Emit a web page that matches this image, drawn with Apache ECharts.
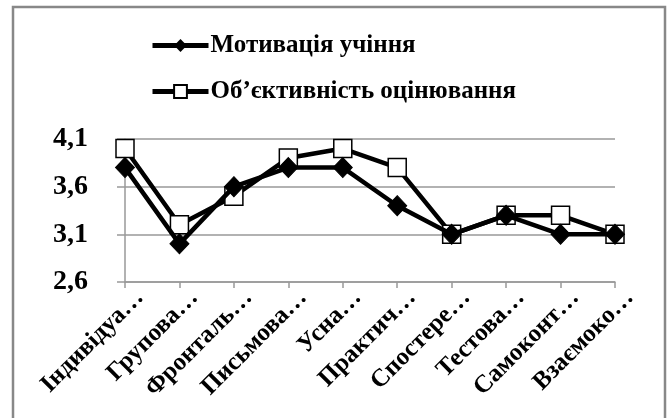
<!DOCTYPE html>
<html>
<head>
<meta charset="utf-8">
<script src="https://cdn.jsdelivr.net/npm/echarts@6/dist/echarts.min.js"></script>
<style>html,body{margin:0;padding:0;background:#fff;}#c{width:667px;height:418px;}</style>
</head>
<body>
<div id="c"></div>
<script>
const categories = ["Індивідуа…","Групова…","Фронталь…","Письмова…","Усна…","Практич…","Спостере…","Тестова…","Самоконт…","Взаємоко…"];
const motivation = [3.8, 3.0, 3.6, 3.8, 3.8, 3.4, 3.1, 3.3, 3.1, 3.1];
const objectivity = [4.0, 3.2, 3.5, 3.9, 4.0, 3.8, 3.1, 3.3, 3.3, 3.1];
const yTicks = {min: 2.6, max: 4.1, interval: 0.5};
const seriesNames = ["Мотивація учіння", "Об’єктивність оцінювання"];

const font = '"Liberation Serif", "Times New Roman", serif';
const chart = echarts.init(document.getElementById('c'), null, {renderer: 'canvas'});
chart.setOption({
  animation: false,
  backgroundColor: '#fff',
  graphic: [{
    type: 'rect', shape: {x: 13, y: 7, width: 652, height: 414},
    style: {fill: 'none', stroke: '#888', lineWidth: 2.5}, silent: true
  }],
  legend: {
    orient: 'vertical', left: 150, top: 33, itemGap: 21, padding: 0,
    itemWidth: 56, itemHeight: 16,
    lineStyle: {width: 5, color: '#000'},
    textStyle: {fontFamily: font, fontWeight: 'bold', fontSize: 25, color: '#000', padding: [0,0,0,-3]},
    data: seriesNames
  },
  grid: {left: 125, right: 52, top: 139, bottom: 136},
  xAxis: {
    type: 'category', data: categories, boundaryGap: false,
    axisLine: {lineStyle: {color: '#999', width: 1.5}},
    axisTick: {show: true, alignWithLabel: true, length: 6, lineStyle: {color: '#999', width: 1.5}},
    axisLabel: {rotate: 45, interval: 0, margin: -3, verticalAlign: 'top', lineHeight: 42,
      fontFamily: font, fontWeight: 'bold', fontSize: 25, color: '#000'},
    splitLine: {show: false}
  },
  yAxis: {
    type: 'value', min: yTicks.min, max: yTicks.max, interval: yTicks.interval,
    axisLine: {show: true, lineStyle: {color: '#999', width: 1.5}},
    axisTick: {show: true, length: 8, lineStyle: {color: '#999', width: 1.5}},
    axisLabel: {margin: 37, fontFamily: font, fontWeight: 'bold', fontSize: 28, color: '#000',
      formatter: v => v.toFixed(1).replace('.', ',')},
    splitLine: {lineStyle: {color: '#999', width: 1.5}}
  },
  series: [
    {
      name: seriesNames[0], type: 'line', data: motivation,
      symbol: 'diamond', symbolSize: [19, 20], z: 3,
      lineStyle: {color: '#000', width: 4.5},
      itemStyle: {color: '#000', borderColor: '#000'}
    },
    {
      name: seriesNames[1], type: 'line', data: objectivity,
      symbol: 'rect', symbolSize: 18, z: 2,
      lineStyle: {color: '#000', width: 4.5},
      itemStyle: {color: '#fff', borderColor: '#000', borderWidth: 1.5}
    }
  ]
});
</script>
</body>
</html>
